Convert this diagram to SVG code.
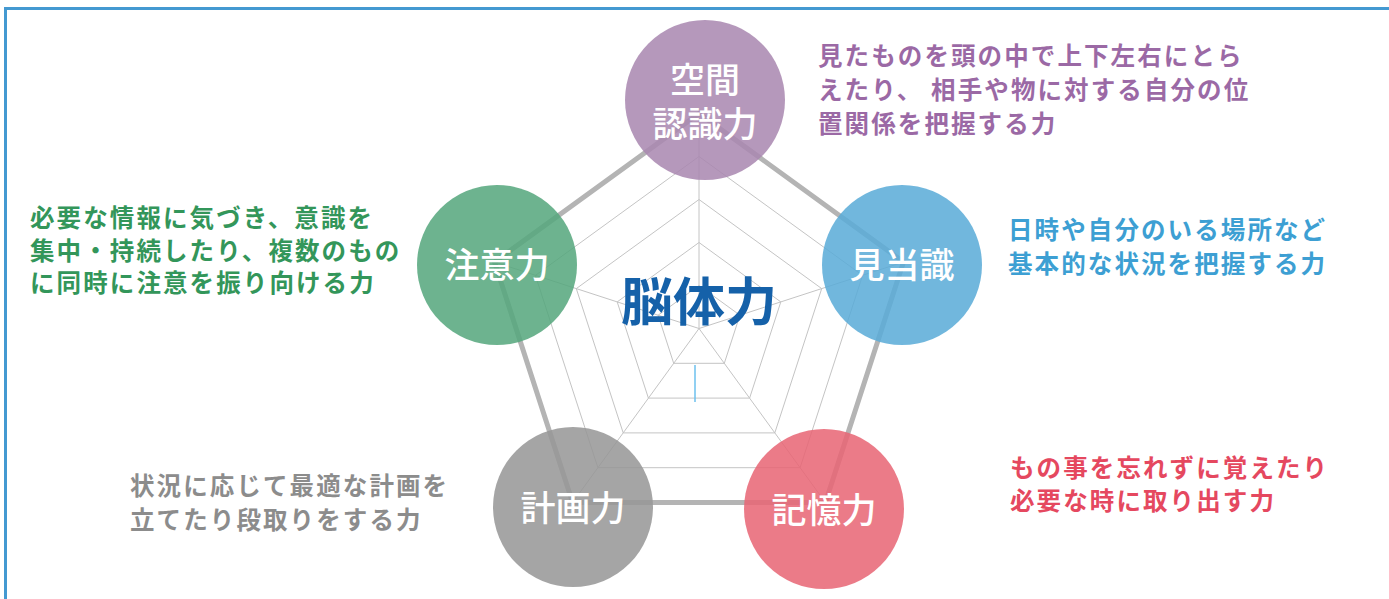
<svg xmlns="http://www.w3.org/2000/svg" width="1389" height="599" viewBox="0 0 1389 599">
<style>
.grid{fill:none;stroke:#c4c4c4;stroke-width:1}
.outer{fill:none;stroke:#b4b4b4;stroke-width:5;stroke-linejoin:round}
.node circle{fill-opacity:0.86}
.lbl{font-family:"Noto Sans CJK JP","Noto Sans CJK SC",sans-serif;font-size:35px;font-weight:500;fill:#ffffff;text-anchor:middle}
.desc{font-family:"Noto Sans CJK JP","Noto Sans CJK SC",sans-serif;font-size:24.5px;font-weight:700;letter-spacing:2.1px}
</style>
<rect width="1389" height="599" fill="#ffffff"/>
<path d="M5.5,599 V8.5 H1389" fill="none" stroke="#4499d1" stroke-width="3"/>
<g id="connectors">
<polygon class="grid" points="699,285.5 739.9,315.2 724.3,363.3 673.7,363.3 658.1,315.2"/>
<polygon class="grid" points="699,242.5 780.8,301.9 749.6,398.1 648.4,398.1 617.2,301.9"/>
<polygon class="grid" points="699,199.5 821.7,288.6 774.8,432.9 623.2,432.9 576.3,288.6"/>
<polygon class="grid" points="699,156.5 862.6,275.4 800.1,467.7 597.9,467.7 535.4,275.4"/>
<line class="grid" x1="699" y1="328.5" x2="699" y2="113.5"/>
<line class="grid" x1="699" y1="328.5" x2="903.5" y2="262"/>
<line class="grid" x1="699" y1="328.5" x2="825.4" y2="502.5"/>
<line class="grid" x1="699" y1="328.5" x2="572.6" y2="502.5"/>
<line class="grid" x1="699" y1="328.5" x2="494.5" y2="262"/>
<polygon class="outer" points="699,113.5 903.5,262 825.4,502.5 572.6,502.5 494.5,262"/>
<line x1="695" y1="365" x2="695" y2="402" stroke="#6cc0ee" stroke-width="1.5"/>
</g>
<g id="node-kukan" class="node">
<circle cx="705" cy="100" r="80" fill="#a987b0"/>
<text class="lbl"><tspan x="705" y="93">空間</tspan><tspan x="705" y="137">認識力</tspan></text>
</g>
<g id="node-kentoshiki" class="node">
<circle cx="902" cy="265" r="80" fill="#5aabd7"/>
<text class="lbl" x="902" y="278">見当識</text>
</g>
<g id="node-kioku" class="node">
<circle cx="824" cy="509" r="80" fill="#e86574"/>
<text class="lbl" x="824" y="523">記憶力</text>
</g>
<g id="node-keikaku" class="node">
<circle cx="573" cy="507" r="80" fill="#969696"/>
<text class="lbl" x="573" y="521">計画力</text>
</g>
<g id="node-chui" class="node">
<circle cx="497" cy="265" r="80" fill="#55a77d"/>
<text class="lbl" x="497" y="278">注意力</text>
</g>
<g id="center">
<text x="699" y="321" font-family="'Noto Sans CJK JP','Noto Sans CJK SC',sans-serif" font-size="52" font-weight="700" fill="#1561a9" text-anchor="middle">脳体力</text>
</g>
<g id="descriptions">
<text class="desc" fill="#9b69a5"><tspan x="818" y="65">見たものを頭の中で上下左右にとら</tspan><tspan x="818" y="99">えたり、 相手や物に対する自分の位</tspan><tspan x="818" y="133">置関係を把握する力</tspan></text>
<text class="desc" fill="#33965a"><tspan x="30" y="227">必要な情報に気づき、意識を</tspan><tspan x="30" y="260">集中・持続したり、複数のもの</tspan><tspan x="30" y="292">に同時に注意を振り向ける力</tspan></text>
<text class="desc" fill="#3d9fd3"><tspan x="1008" y="239">日時や自分のいる場所など</tspan><tspan x="1008" y="273">基本的な状況を把握する力</tspan></text>
<text class="desc" fill="#e5485f"><tspan x="1010" y="477">もの事を忘れずに覚えたり</tspan><tspan x="1010" y="510">必要な時に取り出す力</tspan></text>
<text class="desc" fill="#8c8c8c"><tspan x="130" y="495">状況に応じて最適な計画を</tspan><tspan x="130" y="529">立てたり段取りをする力</tspan></text>
</g>
</svg>
